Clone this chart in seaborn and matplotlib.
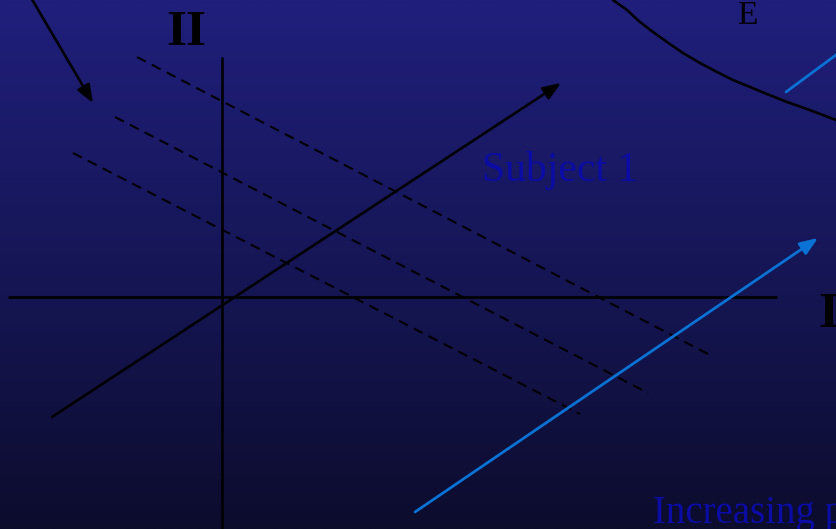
#!/usr/bin/env python3
"""Indifference-map style diagram on a dark blue gradient slide."""

import matplotlib

matplotlib.use("Agg")

import matplotlib.pyplot as plt
import numpy as np
import pandas as pd
import seaborn as sns
from matplotlib.colors import LinearSegmentedColormap

W, H = 836, 529

# axes of the diagram (x0, y0, x1, y1) in picture units
axis_h = (9, 297, 776, 297)
axis_v = (222, 58, 222, 529)

# budget-like dashed lines
dashed_lines = [
    (137, 57, 710, 355),
    (115, 117, 648, 393),
    (73, 153, 580, 414),
]

# arrows (start -> tip)
black_arrow = (52, 417, 561, 83)
corner_arrow = (30, -4, 93, 103)
blue_arrow = (415, 512, 818, 238)
blue_stub = (786, 92, 840, 52)

# curve in the top right corner
curve_x = [613, 627, 640, 653, 667, 683, 700, 717, 733, 750, 767, 787, 807, 836]
curve_y = [0, 10, 22, 32, 42, 53, 63, 72, 80, 87, 94, 102, 109, 120]

labels = [
    ("II", 166, 45, 37, "bold", "black"),
    ("E", 737, 24, 24, "normal", "black"),
    ("Subject 1", 482, 181, 30, "normal", "#0b0ba6"),
    ("I", 818, 327, 37, "bold", "black"),
    ("Increasing preference", 653, 523, 28, "normal", "#0b0ba6"),
]

BLUE = "#0a72d4"


def draw_segment(ax, seg, **kw):
    x0, y0, x1, y1 = seg
    sns.lineplot(x=[x0, x1], y=[y0, y1], ax=ax, sort=False, estimator=None, **kw)


def draw_arrow(ax, seg, color, lw):
    x0, y0, x1, y1 = seg
    ax.annotate(
        "",
        xy=(x1, y1),
        xytext=(x0, y0),
        arrowprops=dict(
            arrowstyle="-|>,head_length=0.9,head_width=0.35",
            color=color,
            lw=lw,
            shrinkA=0,
            shrinkB=0,
        ),
        zorder=3,
    )


def main() -> None:
    sns.set_theme(style="white")
    plt.rcParams["font.family"] = ["Liberation Serif", "DejaVu Serif"]

    fig = plt.figure(figsize=(W / 100, H / 100), dpi=100)
    ax = fig.add_axes([0, 0, 1, 1])

    cmap = LinearSegmentedColormap.from_list(
        "slide", ["#201f7c", "#191963", "#13134a", "#0c0c2d"]
    )
    grad = np.linspace(0, 1, 256).reshape(-1, 1)
    ax.imshow(grad, cmap=cmap, extent=[0, W, H, 0], aspect="auto", zorder=0)

    draw_segment(ax, axis_h, color="black", lw=1.9)
    draw_segment(ax, axis_v, color="black", lw=1.9)

    for seg in dashed_lines:
        draw_segment(ax, seg, color="black", lw=1.5, dashes=(4.8, 3.2))

    curve = pd.DataFrame({"x": curve_x, "y": curve_y})
    sns.lineplot(data=curve, x="x", y="y", ax=ax, sort=False,
                 estimator=None, color="black", lw=1.9)

    draw_arrow(ax, black_arrow, "black", 1.9)
    draw_arrow(ax, corner_arrow, "black", 1.9)
    draw_arrow(ax, blue_arrow, BLUE, 2.0)
    draw_segment(ax, blue_stub, color=BLUE, lw=2.0)

    for text, x, y, size, weight, color in labels:
        ax.text(x, y, text, fontsize=size, fontweight=weight, color=color,
                ha="left", va="baseline", zorder=4)

    ax.set_xlim(0, W)
    ax.set_ylim(H, 0)
    ax.set_axis_off()

    fig.savefig("out.png", dpi=100)


if __name__ == "__main__":
    main()
